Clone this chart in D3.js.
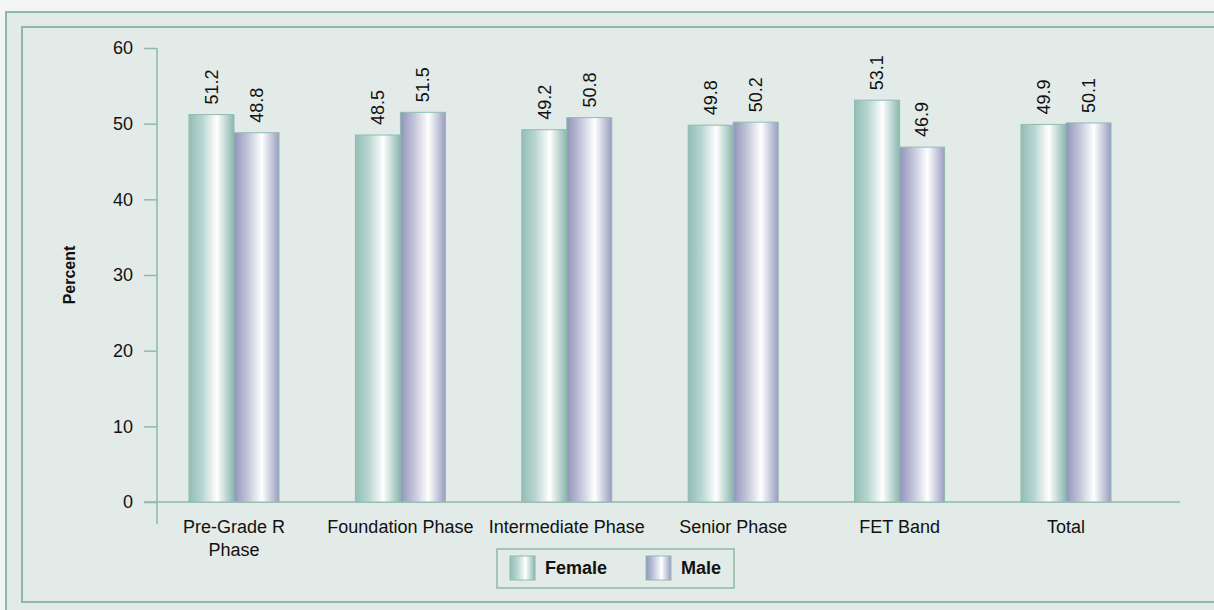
<!DOCTYPE html>
<html>
<head>
<meta charset="utf-8">
<script src="https://cdn.jsdelivr.net/npm/d3@7"></script>
<style>
html,body{margin:0;padding:0;background:#f3f6f5;}
svg{display:block;font-family:"Liberation Sans",Arial,sans-serif;}
</style>
</head>
<body>
<svg id="chart" width="1214" height="610"></svg>
<script>
const categories = [["Pre-Grade R","Phase"],["Foundation Phase"],["Intermediate Phase"],["Senior Phase"],["FET Band"],["Total"]];
const seriesNames = ["Female","Male"];
const female = [51.2, 48.5, 49.2, 49.8, 53.1, 49.9];
const male = [48.8, 51.5, 50.8, 50.2, 46.9, 50.1];
const yTicks = [0,10,20,30,40,50,60];

const svg = d3.select("#chart");
const lineCol = "#90b8aa";
const bg = "#e2ebe7";

// frames
svg.append("rect").attr("x",6).attr("y",12).attr("width",1230).attr("height",620)
  .attr("fill",bg).attr("stroke",lineCol).attr("stroke-width",2);
svg.append("rect").attr("x",22).attr("y",27).attr("width",1210).attr("height",575)
  .attr("fill",bg).attr("stroke",lineCol).attr("stroke-width",2);

// gradients
const defs = svg.append("defs");
const gF = defs.append("linearGradient").attr("id","gF").attr("x1",0).attr("x2",1).attr("y1",0).attr("y2",0);
[["0%","#93bdb6"],["30%","#b9d6d1"],["62%","#ffffff"],["100%","#8ab6ae"]].forEach(s=>gF.append("stop").attr("offset",s[0]).attr("stop-color",s[1]));
const gM = defs.append("linearGradient").attr("id","gM").attr("x1",0).attr("x2",1).attr("y1",0).attr("y2",0);
[["0%","#9194b9"],["30%","#c2c4da"],["62%","#ffffff"],["100%","#9a9dc0"]].forEach(s=>gM.append("stop").attr("offset",s[0]).attr("stop-color",s[1]));
const fills = ["url(#gF)","url(#gM)"];

const y = d3.scaleLinear().domain([0,60]).range([502,48]);
const x0 = d3.scaleBand().domain(d3.range(categories.length)).range([150.8,1149.2]).paddingInner(0.459).paddingOuter(0.2295);
const x1 = d3.scaleBand().domain([0,1]).range([0,x0.bandwidth()]);

// y axis
const yAxis = svg.append("g").attr("transform","translate(157,0)")
  .call(d3.axisLeft(y).tickValues(yTicks).tickSize(13).tickPadding(11));
yAxis.select(".domain").remove();
yAxis.selectAll(".tick line").attr("stroke",lineCol).attr("stroke-width",1.5);
yAxis.selectAll(".tick text").attr("font-size",18).attr("fill","#111").attr("font-family","Liberation Sans, Arial, sans-serif");
svg.append("line").attr("x1",157).attr("x2",157).attr("y1",48).attr("y2",524).attr("stroke",lineCol).attr("stroke-width",1.5);
svg.append("line").attr("x1",144).attr("x2",1180).attr("y1",y(0)).attr("y2",y(0)).attr("stroke",lineCol).attr("stroke-width",1.5);

// bars
const data = categories.map((c,i)=>({i, vals:[female[i], male[i]]}));
const groups = svg.append("g").selectAll("g").data(data).join("g")
  .attr("transform",d=>`translate(${x0(d.i)},0)`);
groups.selectAll("rect").data(d=>d.vals.map((v,k)=>({v,k}))).join("rect")
  .attr("x",d=>x1(d.k)).attr("width",x1.bandwidth())
  .attr("y",d=>y(d.v)).attr("height",d=>y(0)-y(d.v))
  .attr("fill",d=>fills[d.k]).attr("stroke","#8fbcb1").attr("stroke-width",1);
groups.selectAll("text").data(d=>d.vals.map((v,k)=>({v,k}))).join("text")
  .attr("transform",d=>`translate(${x1(d.k)+x1.bandwidth()/2},${y(d.v)-10}) rotate(-90)`)
  .attr("dy","0.35em").attr("text-anchor","start").attr("font-size",18).attr("fill","#111")
  .text(d=>d.v.toFixed(1));

// category labels
const catG = svg.append("g");
categories.forEach((lines,i)=>{
  const t = catG.append("text").attr("x",x0(i)+x0.bandwidth()/2).attr("y",533)
    .attr("text-anchor","middle").attr("font-size",18).attr("fill","#111");
  lines.forEach((l,j)=>t.append("tspan").attr("x",x0(i)+x0.bandwidth()/2).attr("dy",j===0?0:23).text(l));
});

// y title
svg.append("text").attr("transform","translate(75,275) rotate(-90)").attr("text-anchor","middle")
  .attr("font-size",16).attr("font-weight","bold").attr("fill","#111").text("Percent");

// legend
const lg = svg.append("g");
lg.append("rect").attr("x",497).attr("y",549).attr("width",237).attr("height",39)
  .attr("fill","none").attr("stroke",lineCol).attr("stroke-width",1.5);
const lx = [510, 646];
seriesNames.forEach((n,k)=>{
  lg.append("rect").attr("x",lx[k]).attr("y",556).attr("width",25).attr("height",24)
    .attr("fill",fills[k]).attr("stroke","#8fbcb1").attr("stroke-width",1);
  lg.append("text").attr("x",lx[k]+35).attr("y",574).attr("font-size",18).attr("font-weight","bold")
    .attr("fill","#111").text(n);
});
</script>
</body>
</html>
